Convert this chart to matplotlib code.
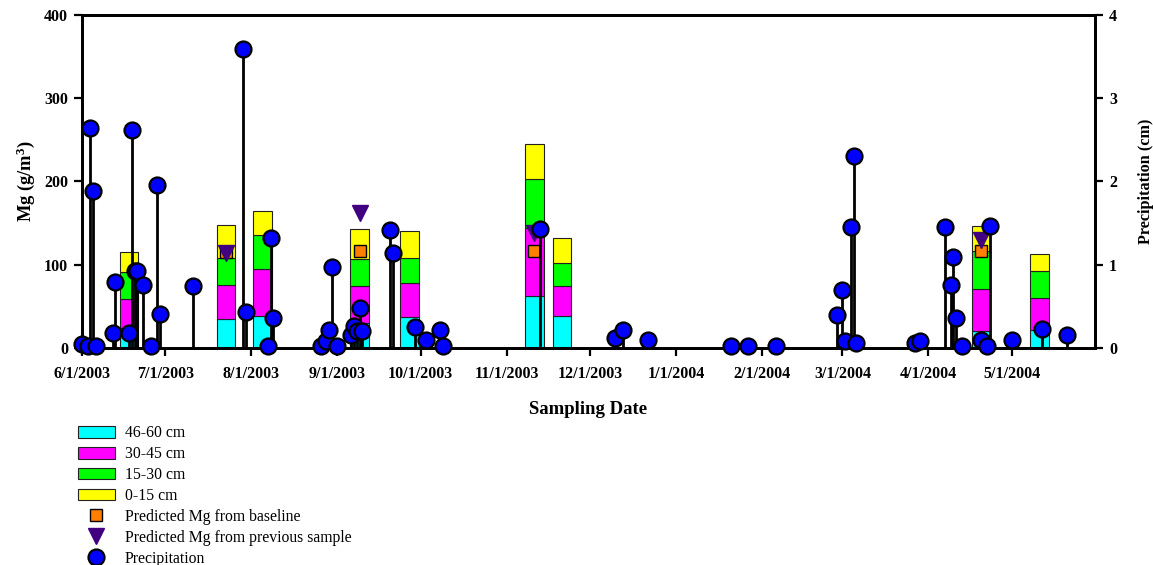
import matplotlib
matplotlib.use("Agg")
import numpy as np
import pandas as pd
import matplotlib.pyplot as plt
import matplotlib.dates as mdates
from matplotlib.patches import Patch
from matplotlib.lines import Line2D

plt.rcParams["font.family"] = ["Liberation Serif", "DejaVu Serif"]
plt.rcParams["font.weight"] = "bold"
plt.rcParams["axes.labelweight"] = "bold"
plt.rcParams["mathtext.fontset"] = "custom"
plt.rcParams["mathtext.rm"] = "Liberation Serif:bold"
plt.rcParams["mathtext.it"] = "Liberation Serif:bold"
plt.rcParams["mathtext.bf"] = "Liberation Serif:bold"

# soil samples: Mg (g/m3) per depth layer
sample_dates = ["2003-06-18", "2003-07-23", "2003-08-05", "2003-09-09", "2003-09-27",
                "2003-11-11", "2003-11-21", "2004-04-20", "2004-05-11"]
mg_46_60 = [24, 35, 39, 30, 37, 62, 38, 20, 22]
mg_30_45 = [35, 41, 56, 45, 41, 82, 37, 51, 38]
mg_15_30 = [32, 32, 41, 32, 30, 59, 27, 45, 32]
mg_0_15 = [24, 40, 28, 36, 32, 42, 30, 30, 21]

# model predictions
pred_dates = ["2003-07-23", "2003-09-09", "2003-11-11", "2004-04-20"]
pred_baseline = [115, 116, 116, 116]
pred_previous = [114, 162, 138, 130]

# precipitation events (cm)
precip_dates = [
    "2003-06-01", "2003-06-03", "2003-06-04", "2003-06-05", "2003-06-06",
    "2003-06-12", "2003-06-13", "2003-06-18", "2003-06-19", "2003-06-20",
    "2003-06-21", "2003-06-23", "2003-06-26", "2003-06-28", "2003-06-29",
    "2003-07-11", "2003-07-29", "2003-07-30", "2003-08-07", "2003-08-08",
    "2003-08-09", "2003-08-26", "2003-08-28", "2003-08-29", "2003-08-30",
    "2003-09-01", "2003-09-06", "2003-09-07", "2003-09-08", "2003-09-09",
    "2003-09-10", "2003-09-20", "2003-09-21", "2003-09-29", "2003-10-03",
    "2003-10-08", "2003-10-09", "2003-11-13", "2003-12-10", "2003-12-13",
    "2003-12-22", "2004-01-21", "2004-01-27", "2004-02-06", "2004-02-28",
    "2004-03-01", "2004-03-02", "2004-03-04", "2004-03-05", "2004-03-06",
    "2004-03-27", "2004-03-29", "2004-04-07", "2004-04-09", "2004-04-10",
    "2004-04-11", "2004-04-13", "2004-04-20", "2004-04-22", "2004-04-23",
    "2004-05-01", "2004-05-12", "2004-05-21",
]
precip_cm = [
    0.05, 0.02, 2.64, 1.88, 0.02,
    0.18, 0.79, 0.18, 2.62, 0.92,
    0.92, 0.76, 0.02, 1.96, 0.41,
    0.74, 3.59, 0.43, 0.02, 1.32,
    0.36, 0.02, 0.08, 0.22, 0.97,
    0.02, 0.16, 0.26, 0.21, 0.48,
    0.21, 1.42, 1.14, 0.25, 0.10,
    0.22, 0.02, 1.43, 0.12, 0.22,
    0.10, 0.02, 0.02, 0.02, 0.40,
    0.70, 0.08, 1.45, 2.31, 0.06,
    0.06, 0.08, 1.45, 0.76, 1.09,
    0.36, 0.02, 0.10, 0.02, 1.47,
    0.10, 0.23, 0.15,
]

layer_labels = ["46-60 cm", "30-45 cm", "15-30 cm", "0-15 cm"]
layer_colors = ["#00FFFF", "#FF00FF", "#00FF00", "#FFFF00"]

xs = mdates.date2num(pd.to_datetime(sample_dates))
xp = mdates.date2num(pd.to_datetime(pred_dates))
xr = mdates.date2num(pd.to_datetime(precip_dates))

fig = plt.figure(figsize=(11.53, 5.65), dpi=100)
ax = fig.add_axes([0.0711, 0.3841, 0.8786, 0.5894])
ax2 = ax.twinx()

bottom = np.zeros(len(xs))
for vals, col in zip([mg_46_60, mg_30_45, mg_15_30, mg_0_15], layer_colors):
    ax.bar(xs, vals, width=6.6, bottom=bottom, color=col, edgecolor="#222222", linewidth=0.8)
    bottom += np.array(vals)

ax.plot(xp, pred_baseline, "s", ms=9, mfc="#FF8000", mec="black", mew=1.0, zorder=5)
ax.plot(xp, pred_previous, "v", ms=11, mfc="#400080", mec="#400080", mew=1.0, zorder=6)

# precipitation as stems with round heads
ax2.vlines(xr, 0, precip_cm, color="black", lw=2, zorder=3)
ax2.plot(xr, precip_cm, "o", ms=11.5, mfc="#0000FF", mec="black", mew=1.6, clip_on=False, zorder=4)

ax.set_xlim(mdates.date2num(pd.Timestamp("2003-06-01")), mdates.date2num(pd.Timestamp("2004-05-31")))
ax.set_ylim(0, 400)
ax2.set_ylim(0, 4)
ax.set_yticks([0, 100, 200, 300, 400])
ax2.set_yticks([0, 1, 2, 3, 4])

months = pd.date_range("2003-06-01", "2004-05-01", freq="MS")
ax.set_xticks(mdates.date2num(months))
ax.set_xticklabels([f"{d.month}/{d.day}/{d.year}" for d in months])

for a in (ax, ax2):
    for s in a.spines.values():
        s.set_linewidth(2)
    a.tick_params(direction="out", length=6, width=1.6, labelsize=11.5, pad=4)
ax.tick_params(axis="x", pad=7)

ax.set_xlabel("Sampling Date", fontsize=13.5, labelpad=14)
ax.set_ylabel(r"Mg (g/m$^{3}$)", fontsize=13.3, labelpad=5)
ax2.set_ylabel("Precipitation (cm)", fontsize=11.7, labelpad=15)

handles = [Patch(facecolor=c, edgecolor="#222222", linewidth=0.8) for c in layer_colors]
handles += [
    Line2D([], [], ls="none", marker="s", ms=9, mfc="#FF8000", mec="black"),
    Line2D([], [], ls="none", marker="v", ms=11, mfc="#400080", mec="#400080"),
    Line2D([], [], ls="none", marker="o", ms=11.5, mfc="#0000FF", mec="black", mew=1.6),
]
labels = layer_labels + ["Predicted Mg from baseline", "Predicted Mg from previous sample", "Precipitation"]
fig.legend(handles, labels, loc="upper left", bbox_to_anchor=(0.068, 0.247), frameon=False,
           prop={"weight": "normal", "size": 11.3}, handlelength=2.3, handleheight=0.75,
           handletextpad=0.64, labelspacing=0.31, borderpad=0, borderaxespad=0)

fig.savefig("out.png", dpi=100)
